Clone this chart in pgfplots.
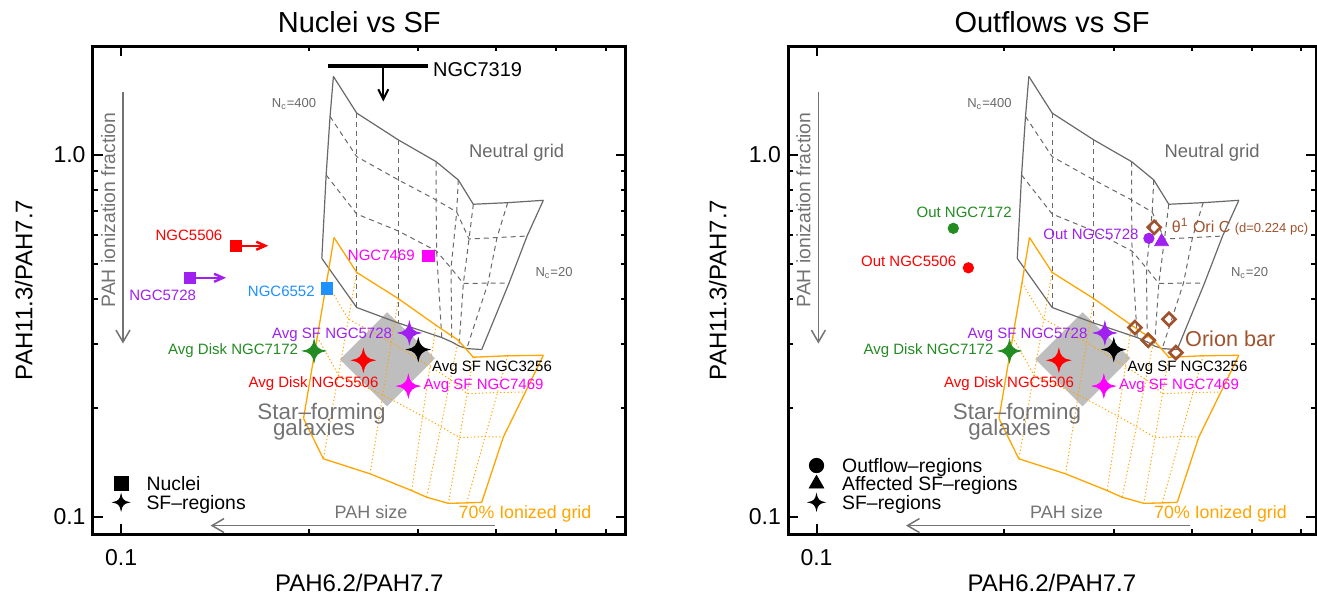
\documentclass[border=0pt]{standalone}
\usepackage{fontspec}
\setmainfont{Liberation Sans}
\usepackage{pgfplots}
\pgfplotsset{compat=1.18}
\usetikzlibrary{arrows.meta}

\definecolor{idlpurple}{RGB}{160,32,240}
\definecolor{idlgreen}{RGB}{34,139,34}
\definecolor{idlblue}{RGB}{30,144,255}
\definecolor{idlbrown}{RGB}{160,82,45}
\definecolor{idlorange}{RGB}{255,165,0}
\definecolor{idlred}{RGB}{255,0,0}
\definecolor{idlmagenta}{RGB}{255,0,255}
\definecolor{gridgray}{RGB}{105,105,105}
\definecolor{sfgray}{RGB}{190,190,190}
\definecolor{txtgray}{RGB}{115,115,115}

% four-pointed star with curved sides
\pgfdeclareplotmark{sparkle}{%
  \pgfpathmoveto{\pgfqpoint{0pt}{\pgfplotmarksize}}%
  \pgfpathquadraticcurveto{\pgfqpoint{0.1\pgfplotmarksize}{0.1\pgfplotmarksize}}{\pgfqpoint{\pgfplotmarksize}{0pt}}%
  \pgfpathquadraticcurveto{\pgfqpoint{0.1\pgfplotmarksize}{-0.1\pgfplotmarksize}}{\pgfqpoint{0pt}{-\pgfplotmarksize}}%
  \pgfpathquadraticcurveto{\pgfqpoint{-0.1\pgfplotmarksize}{-0.1\pgfplotmarksize}}{\pgfqpoint{-\pgfplotmarksize}{0pt}}%
  \pgfpathquadraticcurveto{\pgfqpoint{-0.1\pgfplotmarksize}{0.1\pgfplotmarksize}}{\pgfqpoint{0pt}{\pgfplotmarksize}}%
  \pgfpathclose
  \pgfusepathqfillstroke}

\newcommand{\fsz}[1]{\fontsize{#1}{#1}\selectfont}
% label: colour, anchor, coordinate, text
\newcommand{\tlabel}[4]{\node[font=\fsz{7.5},text height=5.4pt,text depth=0pt,inner sep=0pt,text=#1,anchor=#2] at (axis cs:#3) {#4};}

\tikzset{
  gsolid/.style={gridgray, line width=0.6pt},
  gdash/.style={gridgray, line width=0.5pt, dash pattern=on 2.5pt off 2pt},
  isolid/.style={idlorange, line width=0.65pt},
  idot/.style={idlorange, line width=0.5pt, dash pattern=on 0.6pt off 1.2pt},
  legtext/.style={font=\fsz{9.7}, inner sep=0pt, anchor=west, text height=6.9pt, text depth=0pt},
}

\newcommand{\sharedlayers}{%
  % star-forming galaxies
  \addplot[forget plot, fill=sfgray, draw=none] coordinates {(0.2673,0.3673) (0.3191,0.2740) (0.2673,0.2017) (0.2246,0.2722) (0.2673,0.3673)};
  % neutral grid: rows
  \addplot[forget plot, gsolid] coordinates {(0.2192,1.648) (0.2389,1.305) (0.2787,1.100) (0.3204,0.958) (0.3478,0.8527) (0.3677,0.7304) (0.4175,0.7377) (0.4763,0.7490)};
  \addplot[forget plot, gdash] coordinates {(0.2165,1.277) (0.2389,0.989) (0.2787,0.8527) (0.3204,0.7508) (0.3458,0.6952) (0.3619,0.5852) (0.4013,0.5908) (0.4485,0.5965)};
  \addplot[forget plot, gdash] coordinates {(0.2134,0.880) (0.2389,0.6864) (0.2787,0.6160) (0.3210,0.5420) (0.3386,0.4864) (0.3544,0.4411) (0.3882,0.4419) (0.4195,0.4419)};
  \addplot[forget plot, gsolid] coordinates {(0.2100,0.5174) (0.2389,0.3785) (0.2787,0.3430) (0.3272,0.3126) (0.3395,0.3040) (0.3487,0.2963) (0.3589,0.2914) (0.3793,0.2896)};
  % neutral grid: columns
  \addplot[forget plot, gsolid] coordinates {(0.2192,1.648) (0.2165,1.277) (0.2134,0.880) (0.2100,0.5174)};
  \addplot[forget plot, gdash] coordinates {(0.2389,1.305) (0.2389,0.989) (0.2389,0.6864) (0.2389,0.3785)};
  \addplot[forget plot, gdash] coordinates {(0.2787,1.100) (0.2787,0.8527) (0.2787,0.6160) (0.2787,0.3430)};
  \addplot[forget plot, gdash] coordinates {(0.3204,0.958) (0.3204,0.7508) (0.3210,0.5420) (0.3272,0.3126)};
  \addplot[forget plot, gdash] coordinates {(0.3478,0.8527) (0.3458,0.6952) (0.3386,0.4864) (0.3395,0.3040)};
  \addplot[forget plot, gdash] coordinates {(0.3677,0.7304) (0.3619,0.5852) (0.3544,0.4411) (0.3487,0.2963)};
  \addplot[forget plot, gdash] coordinates {(0.4175,0.7377) (0.4013,0.5908) (0.3882,0.4419) (0.3589,0.2914)};
  \addplot[forget plot, gsolid] coordinates {(0.4763,0.7490) (0.4485,0.5965) (0.4195,0.4419) (0.3793,0.2896)};
  % 70% ionized grid: rows
  \addplot[forget plot, isolid] coordinates {(0.2197,0.5908) (0.2389,0.4733) (0.2787,0.4004) (0.3203,0.3381) (0.3478,0.3073) (0.3677,0.2758) (0.4175,0.2784) (0.4763,0.2792)};
  \addplot[forget plot, idot] coordinates {(0.2137,0.4431) (0.2317,0.3517) (0.2714,0.3030) (0.3132,0.2599) (0.3378,0.2393) (0.3593,0.2186) (0.4021,0.2203) (0.4457,0.2210)};
  \addplot[forget plot, idot] coordinates {(0.2065,0.3135) (0.2233,0.2464) (0.2631,0.2169) (0.3048,0.1895) (0.3262,0.1773) (0.3494,0.1654) (0.3841,0.1664) (0.4108,0.1659)};
  \addplot[forget plot, isolid] coordinates {(0.1963,0.1868) (0.2112,0.1445) (0.2510,0.1313) (0.2928,0.1180) (0.3095,0.1131) (0.3353,0.1088) (0.3588,0.1091) (0.3793,0.1095)};
  % 70% ionized grid: columns
  \addplot[forget plot, isolid] coordinates {(0.2197,0.5908) (0.2137,0.4431) (0.2065,0.3135) (0.1963,0.1868)};
  \addplot[forget plot, idot] coordinates {(0.2389,0.4733) (0.2317,0.3517) (0.2233,0.2464) (0.2112,0.1445)};
  \addplot[forget plot, idot] coordinates {(0.2787,0.4004) (0.2714,0.3030) (0.2631,0.2169) (0.2510,0.1313)};
  \addplot[forget plot, idot] coordinates {(0.3203,0.3381) (0.3132,0.2599) (0.3048,0.1895) (0.2928,0.1180)};
  \addplot[forget plot, idot] coordinates {(0.3478,0.3073) (0.3378,0.2393) (0.3262,0.1773) (0.3095,0.1131)};
  \addplot[forget plot, idot] coordinates {(0.3677,0.2758) (0.3593,0.2186) (0.3494,0.1654) (0.3353,0.1088)};
  \addplot[forget plot, idot] coordinates {(0.4175,0.2784) (0.4021,0.2203) (0.3841,0.1664) (0.3588,0.1091)};
  \addplot[forget plot, isolid] coordinates {(0.4763,0.2792) (0.4457,0.2210) (0.4108,0.1659) (0.3793,0.1095)};
  % direction arrows
  \addplot[forget plot, txtgray, line width=0.75pt, -{Straight Barb[length=6pt,width=7pt]}] coordinates {(0.1007,1.497) (0.1007,0.3009)};
  \addplot[forget plot, txtgray, line width=0.75pt, -{Straight Barb[length=6pt,width=7pt]}] coordinates {(0.3977,0.09443) (0.1392,0.09443)};
  \node[font=\fsz{9.7}, text=txtgray, rotate=90, inner sep=0pt] at (axis cs:0.0953,0.7038) {PAH ionization fraction};
  \node[font=\fsz{9}, text=txtgray, inner sep=0pt, text height=6.4pt, text depth=0pt] at (axis cs:0.2519,0.1027) {PAH size};
  \node[font=\fsz{8.9}, text=idlorange, inner sep=0pt, text height=6.4pt, text depth=0pt] at (axis cs:0.4451,0.1027) {70\% Ionized grid};
  \node[font=\fsz{9.2}, text=gridgray, inner sep=0pt, text height=6.6pt, text depth=0pt] at (axis cs:0.4315,1.028) {Neutral grid};
  \node[font=\fsz{6.5}, text=gridgray, inner sep=0pt] at (axis cs:0.1895,1.3845) {N\textsubscript{c}=400};
  \node[font=\fsz{6.5}, text=gridgray, inner sep=0pt] at (axis cs:0.4955,0.4702) {N\textsubscript{c}=20};
  \node[font=\fsz{11.2}, text=txtgray, inner sep=0pt, text height=8pt, text depth=0pt] at (axis cs:0.2098,0.1950) {Star--forming};
  \node[font=\fsz{11.2}, text=txtgray, inner sep=0pt, text height=8pt, text depth=0pt] at (axis cs:0.2041,0.1764) {galaxies};
  % SF regions
  \addplot[forget plot, only marks, mark=sparkle, mark size=5.6pt, idlpurple] coordinates {(0.2903,0.3219)};
  \addplot[forget plot, only marks, mark=sparkle, mark size=5.6pt, black] coordinates {(0.3000,0.2896)};
  \addplot[forget plot, only marks, mark=sparkle, mark size=5.6pt, idlgreen] coordinates {(0.2041,0.2870)};
  \addplot[forget plot, only marks, mark=sparkle, mark size=5.6pt, idlred] coordinates {(0.2449,0.2705)};
  \addplot[forget plot, only marks, mark=sparkle, mark size=5.6pt, idlmagenta] coordinates {(0.2892,0.2295)};
  \tlabel{idlpurple}{east}{0.2726,0.3212}{Avg SF NGC5728}
  \tlabel{black}{west}{0.3153,0.2603}{Avg SF NGC3256}
  \tlabel{idlgreen}{east}{0.1926,0.2896}{Avg Disk NGC7172}
  \tlabel{idlred}{east}{0.2593,0.2355}{Avg Disk NGC5506}
  \tlabel{idlmagenta}{west}{0.3056,0.2317}{Avg SF NGC7469}
}

\begin{document}
\begin{tikzpicture}
\path[use as bounding box] (0pt,0pt) rectangle (658.5pt,-298pt);

\begin{axis}[at={(46.3pt,-267pt)}, anchor=south west,
  xmode=log, ymode=log, scale only axis, width=266.7pt, height=244pt,
  xmin=0.09, xmax=0.6465, ymin=0.0895, ymax=2.0,
  xtick={0.1}, xticklabels={0.1},
  ytick={0.1,1}, yticklabels={0.1,1.0},
  minor xtick={0.2,0.3,0.4,0.5,0.6},
  minor ytick={0.2,0.3,0.4,0.5,0.6,0.7,0.8,0.9,2},
  axis line style={line width=1.5pt},
  tick style={black, line width=1pt},
  major tick length=5pt, minor tick length=2.5pt,
  tick label style={font=\fsz{11.5}},
  xticklabel style={yshift=-4pt},
  xlabel={PAH6.2/PAH7.7}, ylabel={PAH11.3/PAH7.7},
  label style={font=\fsz{12}},
  xlabel style={at={(axis description cs:0.5,-0.118)}, anchor=base},
  ylabel style={at={(axis description cs:-0.1128,0.5)}, anchor=base},
  title={Nuclei vs SF},
  title style={font=\fsz{14.5}, at={(axis description cs:0.5,1.0273)}, anchor=base, yshift=-6pt}]
  \sharedlayers
  % NGC7319 upper limit
  \addplot[forget plot, black, line width=2pt] coordinates {(0.2151,1.757) (0.3114,1.757)};
  \addplot[forget plot, black, line width=1pt, -{Straight Barb[length=5pt,width=5pt]}] coordinates {(0.2636,1.757) (0.2636,1.405)};
  \node[font=\fsz{10}, inner sep=0pt, anchor=west, text height=7.2pt, text depth=0pt] at (axis cs:0.3164,1.720) {NGC7319};
  % nuclei
  \addplot[forget plot, idlred, line width=1.2pt, -{Straight Barb[length=4.5pt,width=4pt]}] coordinates {(0.1528,0.5608) (0.1723,0.5608)};
  \addplot[forget plot, idlpurple, line width=1.2pt, -{Straight Barb[length=4.5pt,width=4pt]}] coordinates {(0.1290,0.4573) (0.1474,0.4573)};
  \addplot[forget plot, only marks, mark=square*, mark size=2.8pt, idlred] coordinates {(0.1528,0.5608)};
  \addplot[forget plot, only marks, mark=square*, mark size=2.8pt, idlpurple] coordinates {(0.1290,0.4573)};
  \addplot[forget plot, only marks, mark=square*, mark size=2.8pt, idlblue] coordinates {(0.2143,0.4272)};
  \addplot[forget plot, only marks, mark=square*, mark size=2.8pt, idlmagenta] coordinates {(0.3114,0.5251)};
  \tlabel{idlred}{east}{0.1456,0.6003}{NGC5506}
  \tlabel{idlpurple}{center}{0.1166,0.4095}{NGC5728}
  \tlabel{idlblue}{east}{0.2048,0.4200}{NGC6552}
  \tlabel{idlmagenta}{east}{0.2964,0.5284}{NGC7469}
  % legend
  \addplot[forget plot, only marks, mark=square*, mark size=3.5pt, black] coordinates {(0.1,0.1232)};
  \addplot[forget plot, only marks, mark=sparkle, mark size=4pt, black] coordinates {(0.1,0.1095)};
  \node[legtext] at (axis cs:0.1097,0.1232) {Nuclei};
  \node[legtext] at (axis cs:0.1097,0.1095) {SF--regions};
\end{axis}

\begin{axis}[at={(394pt,-267pt)}, anchor=south west,
  xmode=log, ymode=log, scale only axis, width=264pt, height=244pt,
  xmin=0.09, xmax=0.6335, ymin=0.0895, ymax=2.0,
  xtick={0.1}, xticklabels={0.1},
  ytick={0.1,1}, yticklabels={0.1,1.0},
  minor xtick={0.2,0.3,0.4,0.5,0.6},
  minor ytick={0.2,0.3,0.4,0.5,0.6,0.7,0.8,0.9,2},
  axis line style={line width=1.5pt},
  tick style={black, line width=1pt},
  major tick length=5pt, minor tick length=2.5pt,
  tick label style={font=\fsz{11.5}},
  xticklabel style={yshift=-4pt},
  xlabel={PAH6.2/PAH7.7}, ylabel={PAH11.3/PAH7.7},
  label style={font=\fsz{12}},
  xlabel style={at={(axis description cs:0.5,-0.118)}, anchor=base},
  ylabel style={at={(axis description cs:-0.1165,0.5)}, anchor=base},
  title={Outflows vs SF},
  title style={font=\fsz{14.5}, at={(axis description cs:0.5,1.0273)}, anchor=base, yshift=-6pt}]
  \sharedlayers
  % outflows
  \addplot[forget plot, only marks, mark=*, mark size=2.6pt, idlgreen] coordinates {(0.1658,0.6265)};
  \addplot[forget plot, only marks, mark=*, mark size=2.6pt, idlred] coordinates {(0.1753,0.4873)};
  \addplot[forget plot, only marks, mark=*, mark size=2.6pt, idlpurple] coordinates {(0.3416,0.5879)};
  \addplot[forget plot, only marks, mark=triangle*, mark size=4pt, idlpurple] coordinates {(0.3580,0.5753)};
  % Orion
  \addplot[forget plot, only marks, mark=square, mark size=2.3pt, mark options={rotate=45, draw=idlbrown, fill=white, line width=1.3pt}] coordinates {(0.3484,0.6306)};
  \addplot[forget plot, only marks, mark=square, mark size=2.3pt, mark options={rotate=45, draw=idlbrown, fill=white, line width=1.3pt}] coordinates {(0.3244,0.3332) (0.3407,0.3073) (0.3679,0.3513) (0.3775,0.2841)};
  \tlabel{idlgreen}{center}{0.1726,0.6966}{Out NGC7172}
  \tlabel{idlred}{east}{0.1678,0.5086}{Out NGC5506}
  \tlabel{idlpurple}{east}{0.3292,0.6030}{Out NGC5728}
  \node[text=idlbrown, inner sep=0pt, anchor=west, text height=5.7pt, text depth=0pt] at (axis cs:0.3715,0.6329) {\fsz{8}θ\textsuperscript{1} Ori C \fsz{6.5}(d=0.224 pc)};
  \node[font=\fsz{10.8}, text=idlbrown, inner sep=0pt, anchor=west, text height=7.7pt, text depth=0pt] at (axis cs:0.3902,0.3106) {Orion bar};
  % legend
  \addplot[forget plot, only marks, mark=*, mark size=3.6pt, black] coordinates {(0.1,0.1384)};
  \addplot[forget plot, only marks, mark=triangle*, mark size=4.2pt, black] coordinates {(0.1,0.1232)};
  \addplot[forget plot, only marks, mark=sparkle, mark size=4pt, black] coordinates {(0.1,0.1095)};
  \node[legtext] at (axis cs:0.1098,0.1384) {Outflow--regions};
  \node[legtext] at (axis cs:0.1098,0.1232) {Affected SF--regions};
  \node[legtext] at (axis cs:0.1098,0.1095) {SF--regions};
\end{axis}
\end{tikzpicture}
\end{document}
